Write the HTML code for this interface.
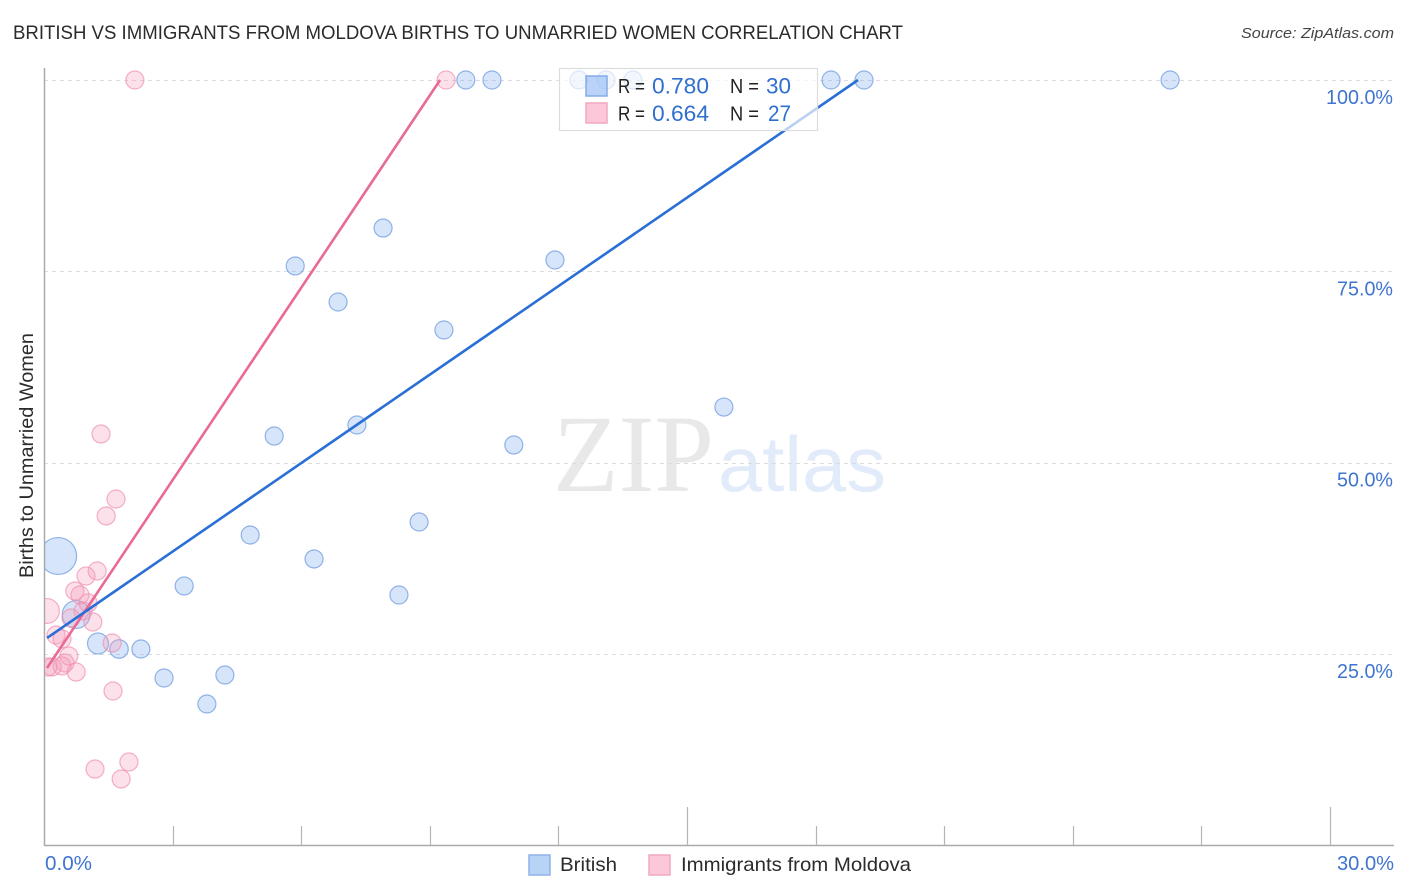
<!DOCTYPE html>
<html lang="en">
<head>
<meta charset="utf-8">
<title>British vs Immigrants from Moldova Births to Unmarried Women Correlation Chart</title>
<style>
html,body{margin:0;padding:0;background:#fff;width:1406px;height:892px;overflow:hidden}
svg{display:block;font-family:"Liberation Sans",sans-serif}
</style>
</head>
<body>
<svg id="chart" xmlns="http://www.w3.org/2000/svg" width="1406" height="892" viewBox="0 0 1406 892">
  <text x="13" y="39" font-size="19" fill="#2b2b2b" textLength="890" lengthAdjust="spacingAndGlyphs">BRITISH VS IMMIGRANTS FROM MOLDOVA BIRTHS TO UNMARRIED WOMEN CORRELATION CHART</text>
  <text x="1241" y="38" font-size="15" font-style="italic" fill="#444" textLength="153" lengthAdjust="spacingAndGlyphs">Source: ZipAtlas.com</text>

  <g id="watermark">
    <text x="553" y="491" font-family="'Liberation Serif',serif" font-size="110" fill="#e8e8e8" textLength="161" lengthAdjust="spacingAndGlyphs">ZIP</text>
    <text x="718" y="491" font-size="78" fill="#e2ebf9" textLength="168" lengthAdjust="spacingAndGlyphs">atlas</text>
  </g>

  <g id="grid"></g>
  <g id="axes"></g>
  <svg id="points" x="45" y="40" width="1361" height="805" viewBox="45 40 1361 805" overflow="hidden"></svg>
  <g id="trends"></g>

  <g id="stats-legend">
    <rect x="559.5" y="68.5" width="258" height="62" fill="#fff" fill-opacity="0.68" stroke="#dcdcdc" stroke-width="1.2"/>
    <rect x="586" y="76" width="21" height="20" fill="#93bdf4" fill-opacity="0.65" stroke="#85ace6" stroke-width="1.5"/>
    <rect x="586" y="103" width="21" height="20" fill="#fcc7d8" stroke="#f2a9c0" stroke-width="1.5"/>
    <text x="618" y="93" font-size="20" fill="#222" textLength="27" lengthAdjust="spacingAndGlyphs">R =</text>
    <text x="652" y="93.5" font-size="22" fill="#2f6fd0" textLength="57" lengthAdjust="spacingAndGlyphs">0.780</text>
    <text x="730" y="93" font-size="20" fill="#222" textLength="29" lengthAdjust="spacingAndGlyphs">N =</text>
    <text x="766" y="93.5" font-size="22" fill="#2f6fd0" textLength="25" lengthAdjust="spacingAndGlyphs">30</text>
    <text x="618" y="120.5" font-size="20" fill="#222" textLength="27" lengthAdjust="spacingAndGlyphs">R =</text>
    <text x="652" y="121" font-size="22" fill="#2f6fd0" textLength="57" lengthAdjust="spacingAndGlyphs">0.664</text>
    <text x="730" y="120.5" font-size="20" fill="#222" textLength="29" lengthAdjust="spacingAndGlyphs">N =</text>
    <text x="768" y="121" font-size="22" fill="#2f6fd0" textLength="23" lengthAdjust="spacingAndGlyphs">27</text>
  </g>

  <text transform="translate(33,578) rotate(-90)" font-size="19" fill="#2b2b2b" textLength="245" lengthAdjust="spacingAndGlyphs">Births to Unmarried Women</text>

  <g id="bottom-legend">
    <rect x="529" y="855" width="21" height="20" fill="#b9d3f7" stroke="#8fb4e8" stroke-width="1.5"/>
    <text x="560" y="871" font-size="19.5" fill="#2b2b2b" textLength="57" lengthAdjust="spacingAndGlyphs">British</text>
    <rect x="649" y="855" width="21" height="20" fill="#fcc7d8" stroke="#f2a9c0" stroke-width="1.5"/>
    <text x="681" y="871" font-size="19.5" fill="#2b2b2b" textLength="230" lengthAdjust="spacingAndGlyphs">Immigrants from Moldova</text>
  </g>
</svg>
<script>
const britishX = [9.84,10.45,12.48,13.11,13.74,18.36,19.13,26.27,7.91,5.86,11.92,6.86,9.33,7.30,5.37,10.96,15.86,4.81,8.75,0.33,6.30,3.27,8.28,0.75,1.26,1.75,2.26,2.80,4.22,3.80];
const britishY = [100,100,100,100,100,100,100,100,80.65,75.69,76.47,70.98,67.32,54.90,53.46,52.29,57.25,40.52,42.22,37.78,37.39,33.86,32.68,30.13,26.34,25.62,25.62,21.83,22.22,18.43];
const britishWeight = [1,1,1,1,1,1,1,1,1,1,1,1,1,1,1,1,1,1,1,4.2,1,1,1,2.4,1.36,1.05,1,1,1,1];
const moldovaX = [2.12,9.38,1.33,1.68,1.45,1.24,0.98,0.72,0.84,1.03,0.07,0.91,0.63,1.14,0.28,0.42,1.59,0.58,0.49,0.42,0.19,0.09,0.75,1.61,1.19,1.98,1.80];
const moldovaY = [100,100,53.73,45.23,43.01,35.82,35.16,33.20,32.68,31.63,30.59,30.59,29.67,29.15,27.45,26.93,26.41,24.71,23.79,23.40,23.27,23.27,22.61,20.13,9.93,10.85,8.63];
const moldovaWeight = [1,1,1,1,1,1,1,1,1,1,1.9,1,1,1,1,1,1,1,1,1,1,1,1,1,1,1,1];
const britishTrendX = [0.07,18.99];
const britishTrendY = [27.06,100];
const moldovaTrendX = [0.07,9.24];
const moldovaTrendY = [23.14,100];
const yTickValues = [25,50,75,100];
const yTickLabels = ["25.0%","50.0%","75.0%","100.0%"];
const xTickValues = [0,3,6,9,12,15,18,21,24,27,30];
const xMajorTicks = [0,15,30];
const xEndLabels = ["0.0%","30.0%"];

const NS = "http://www.w3.org/2000/svg";
function xScale(v){ return 44 + v * (1330 - 44) / 30; }
function yScale(v){ return 845 - v * (845 - 80) / 100; }
function rScale(w){ return 9 * Math.sqrt(w); }
function make(tag, attrs, parent){
  const el = document.createElementNS(NS, tag);
  for (const k in attrs) el.setAttribute(k, attrs[k]);
  parent.appendChild(el);
  return el;
}

const grid = document.getElementById("grid");
const axes = document.getElementById("axes");
const points = document.getElementById("points");
const trends = document.getElementById("trends");

yTickValues.forEach(function(v, i){
  const y = Math.round(yScale(v)) + 0.5;
  const g = make("line", {x1:44, x2:1394, y1:y, y2:y, stroke:"#dcdcdc", "stroke-width":1, "stroke-dasharray":"4 4"}, grid);
  
  
  const t = make("text", {x:1393, y:yScale(v) + 24, "text-anchor":"end", "font-size":20, fill:"#3f74cf", textLength: yTickLabels[i].length > 5 ? 67 : 56, lengthAdjust:"spacingAndGlyphs"}, axes);
  t.textContent = yTickLabels[i];
  
  
});

const leftAxis = make("line", {x1:44.5, x2:44.5, y1:68, y2:846, stroke:"#aaaaaa", "stroke-width":1.5}, axes);


const bottomAxis = make("line", {x1:44, x2:1394, y1:845.5, y2:845.5, stroke:"#aaaaaa", "stroke-width":1.5}, axes);



xTickValues.forEach(function(v){
  if (v === 0) return;
  const x = Math.round(xScale(v)) + 0.5;
  const top = xMajorTicks.indexOf(v) >= 0 ? 807 : 826;
  const tick = make("line", {x1:x, x2:x, y1:top, y2:845, stroke:"#b5b5b5", "stroke-width":1.2}, axes);
  
  
});

const xLabelLeft = make("text", {x:45, y:870, "font-size":20, fill:"#3f74cf", textLength:47, lengthAdjust:"spacingAndGlyphs"}, axes);
xLabelLeft.textContent = xEndLabels[0];


const xLabelRight = make("text", {x:1337, y:870, "font-size":20, fill:"#3f74cf", textLength:57, lengthAdjust:"spacingAndGlyphs"}, axes);
xLabelRight.textContent = xEndLabels[1];



britishX.forEach(function(v, i){
  const c = make("circle", {cx:xScale(v), cy:yScale(britishY[i]), r:rScale(britishWeight[i]), fill:"#7aaaf0", "fill-opacity":0.3, stroke:"#6f9ce0", "stroke-opacity":0.75, "stroke-width":1.2}, points);
  
  
});
moldovaX.forEach(function(v, i){
  const c = make("circle", {cx:xScale(v), cy:yScale(moldovaY[i]), r:rScale(moldovaWeight[i]), fill:"#f59ab8", "fill-opacity":0.3, stroke:"#ee90b0", "stroke-opacity":0.7, "stroke-width":1.2}, points);
  
  
});

const moldovaLine = make("line", {x1:xScale(moldovaTrendX[0]), y1:yScale(moldovaTrendY[0]), x2:xScale(moldovaTrendX[1]), y2:yScale(moldovaTrendY[1]), stroke:"#e96a94", "stroke-width":2.6}, trends);


const britishLine = make("line", {x1:xScale(britishTrendX[0]), y1:yScale(britishTrendY[0]), x2:xScale(britishTrendX[1]), y2:yScale(britishTrendY[1]), stroke:"#2a6fd6", "stroke-width":2.6}, trends);


</script>
</body>
</html>
